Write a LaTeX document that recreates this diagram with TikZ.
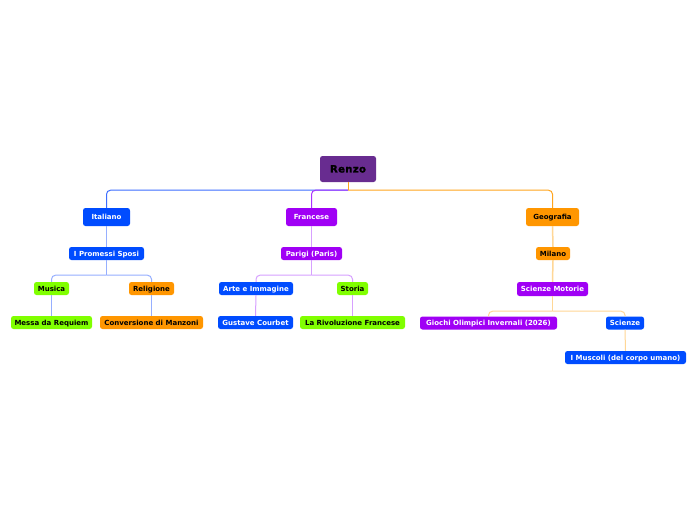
\documentclass[tikz,border=0pt]{standalone}
\usepackage{fontspec}
\setmainfont{DejaVu Sans}
\newfontfamily\heavyfont[FakeBold=1.5,LetterSpace=4]{DejaVu Sans Bold}
\definecolor{rootC}{RGB}{104,44,144}
\definecolor{blueN}{RGB}{0,76,255}
\definecolor{purpleN}{RGB}{160,0,245}
\definecolor{orangeN}{RGB}{255,150,0}
\definecolor{greenN}{RGB}{128,255,0}
\definecolor{blueL}{RGB}{150,175,255}
\definecolor{purpleL}{RGB}{215,160,255}
\definecolor{orangeL}{RGB}{255,215,150}
\definecolor{blueM}{RGB}{60,110,255}
\definecolor{purpleM}{RGB}{170,50,255}
\definecolor{orangeM}{RGB}{255,165,30}
\tikzset{
  box/.style={rounded corners=2.5pt, inner sep=0pt, align=center,
    text height=5.2pt, text depth=0.2pt,
    font=\fontsize{7}{8}\selectfont\bfseries},
  bluebox/.style={box, fill=blueN, text=white},
  purplebox/.style={box, fill=purpleN, text=white},
  orangebox/.style={box, fill=orangeN, text=black},
  greenbox/.style={box, fill=greenN, text=black},
  mainlink/.style={line width=1pt},
  sublink/.style={line width=1pt},
  roundbend/.style={rounded corners=4pt},
}
\begin{document}
\begin{tikzpicture}[x=1pt,y=-1pt]
\useasboundingbox[fill=white] (0,0) rectangle (696,520);
% nodes
\node[box, fill=rootC, text=black, minimum width=56, minimum height=26,
  text height=7.2pt, text depth=0.3pt,
  font=\fontsize{10}{11}\heavyfont] (renzo) at (348,169) {Renzo};
\node[bluebox, minimum width=47, minimum height=18] (italiano) at (106.5,217) {Italiano};
\node[purplebox, minimum width=51, minimum height=18] (francese) at (311.5,217) {Francese};
\node[orangebox, minimum width=53, minimum height=18] (geografia) at (552.5,217) {Geografia};
\node[bluebox, minimum width=75, minimum height=13] (promessi) at (106.5,253.5) {I Promessi Sposi};
\node[purplebox, minimum width=61, minimum height=13] (parigi) at (311.5,253.5) {Parigi (Paris)};
\node[orangebox, minimum width=34, minimum height=13] (milano) at (553,253.5) {Milano};
\node[greenbox, minimum width=35, minimum height=13] (musica) at (51.5,288.5) {Musica};
\node[orangebox, minimum width=45, minimum height=13] (religione) at (151.5,288.5) {Religione};
\node[bluebox, minimum width=74, minimum height=13] (arte) at (256,288.5) {Arte e Immagine};
\node[greenbox, minimum width=31, minimum height=13] (storia) at (352.5,288.5) {Storia};
\node[purplebox, minimum width=71, minimum height=14] (motorie) at (552.5,289) {Scienze Motorie};
\node[greenbox, minimum width=81, minimum height=13] (messa) at (51.5,322.5) {Messa da Requiem};
\node[orangebox, minimum width=103, minimum height=13] (conversione) at (151.5,322.5) {Conversione di Manzoni};
\node[bluebox, minimum width=75, minimum height=13] (gustave) at (255.5,322.5) {Gustave Courbet};
\node[greenbox, minimum width=105, minimum height=13] (rivoluzione) at (352.5,322.5) {La Rivoluzione Francese};
\node[purplebox, minimum width=137, minimum height=13] (giochi) at (488.5,323) {Giochi Olimpici Invernali (2026)};
\node[bluebox, minimum width=38, minimum height=13] (scienze) at (625,323) {Scienze};
\node[bluebox, minimum width=121, minimum height=13] (muscoli) at (625.5,357.5) {I Muscoli (del corpo umano)};
% junction points
\path (renzo.south) ++(0,8) coordinate (rj);
\path (promessi.south) ++(0,15) coordinate (pj);
\path (parigi.south) ++(0,15) coordinate (fj);
\path (motorie.south) ++(0,15) coordinate (mj);
% main connectors
\draw[mainlink, draw=blueM, roundbend] (rj) -| (italiano.north);
\draw[mainlink, draw=purpleM, roundbend] (rj) -| (francese.north);
\draw[mainlink, draw=orangeM, roundbend] (rj) -| (geografia.north);
\draw[mainlink, draw=orangeM] (renzo.south) -- (rj);
% Italiano subtree
\draw[sublink, draw=blueL, line width=1.5pt] (italiano.south) -- (promessi.north);
\draw[sublink, draw=blueL] (promessi.south) -- (pj);
\draw[sublink, draw=blueL, roundbend] (pj) -| (musica.north);
\draw[sublink, draw=blueL, roundbend] (pj) -| (religione.north);
\draw[sublink, draw=blueL] (musica.south) -- (messa.north);
\draw[sublink, draw=blueL] (religione.south) -- (conversione.north);
% Francese subtree
\draw[sublink, draw=purpleL, line width=1.5pt] (francese.south) -- (parigi.north);
\draw[sublink, draw=purpleL] (parigi.south) -- (fj);
\draw[sublink, draw=purpleL, roundbend] (fj) -| (arte.north);
\draw[sublink, draw=purpleL, roundbend] (fj) -| (storia.north);
\draw[sublink, draw=purpleL] (arte.south) -- (gustave.north);
\draw[sublink, draw=purpleL] (storia.south) -- (rivoluzione.north);
% Geografia subtree
\draw[sublink, draw=orangeL, line width=1.5pt] (geografia.south) -- (milano.north);
\draw[sublink, draw=orangeL, line width=1.5pt] (milano.south) -- (motorie.north);
\draw[sublink, draw=orangeL, line width=1.5pt] (motorie.south) -- (mj);
\draw[sublink, draw=orangeL, roundbend] (mj) -| (giochi.north);
\draw[sublink, draw=orangeL, roundbend] (mj) -| (scienze.north);
\draw[sublink, draw=orangeL] (scienze.south) -- (muscoli.north);
\end{tikzpicture}
\end{document}
